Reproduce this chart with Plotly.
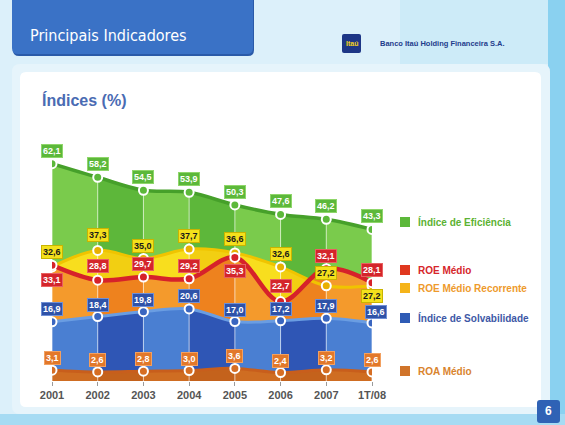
import plotly.graph_objects as go

# ---------------- data ----------------
categories = ["2001", "2002", "2003", "2004", "2005", "2006", "2007", "1T/08"]
eficiencia = [62.1, 58.2, 54.5, 53.9, 50.3, 47.6, 46.2, 43.3]
roe_recorrente = [32.6, 37.3, 35.0, 37.7, 36.6, 32.6, 27.2, 27.2]
roe_medio = [33.1, 28.8, 29.7, 29.2, 35.3, 22.7, 32.1, 28.1]
solvabilidade = [16.9, 18.4, 19.8, 20.6, 17.0, 17.2, 17.9, 16.6]
roa_medio = [3.1, 2.6, 2.8, 3.0, 3.6, 2.4, 3.2, 2.6]

legend_names = ["Índice de Eficiência", "ROE Médio", "ROE Médio Recorrente",
                "Índice de Solvabilidade", "ROA Médio"]

W, H = 565, 425
xs = list(range(len(categories)))


def px(x):
    return x / W


def py(y):
    return 1 - y / H


def rrect_path(x0, y0, x1, y1, r):
    rx, ry = r / W, r / H
    a, b, c, d = px(x0), py(y0), px(x1), py(y1)
    return (f"M {a+rx},{b} L {c-rx},{b} Q {c},{b} {c},{b-ry} L {c},{d+ry} "
            f"Q {c},{d} {c-rx},{d} L {a+rx},{d} Q {a},{d} {a},{d+ry} "
            f"L {a},{b-ry} Q {a},{b} {a+rx},{b} Z")


def stripes(c_light, c_dark):
    n = len(categories) - 1
    cs = []
    for k in range(n):
        col = c_light if k % 2 == 0 else c_dark
        cs.append([k / n, col])
        cs.append([(k + 1) / n, col])
    return cs


fig = go.Figure()

# filled areas (back to front)
areas = [
    (eficiencia, "#7acb4c", "#5db73a"),
    (roe_recorrente, "#f8de1e", "#f2cf12"),
    (roe_medio, "#f49a2c", "#ee821e"),
    (solvabilidade, "#4a7fd2", "#2f56b5"),
    (roa_medio, "#cf6d22", "#c4621c"),
]
for vals, cl, cd in areas:
    fig.add_trace(go.Scatter(
        x=xs, y=vals, mode="lines", line=dict(width=0, shape="spline"),
        fill="tozeroy",
        fillgradient=dict(type="horizontal", colorscale=stripes(cl, cd)),
        hoverinfo="skip", showlegend=False))

# white vertical guide lines inside the areas
gx, gy = [], []
for i in xs:
    gx += [i, i, None]
    gy += [0, eficiencia[i], None]
fig.add_trace(go.Scatter(x=gx, y=gy, mode="lines",
                         line=dict(color="rgba(255,255,255,0.65)", width=1),
                         hoverinfo="skip", showlegend=False))

# lines + markers
lines = [
    (eficiencia, "#46a02a", 3.5, "#5cb83a"),
    (roe_recorrente, "#f0c400", 3, "#e8b000"),
    (roe_medio, "#d6222a", 4.5, "#d6222a"),
    (solvabilidade, "#6a9de2", 3, "#3a66c0"),
    (roa_medio, "#c85e1c", 3, "#d66e24"),
]
for vals, lc, lw, mc in lines:
    fig.add_trace(go.Scatter(
        x=xs, y=vals, mode="lines+markers",
        line=dict(color=lc, width=lw, shape="spline"),
        marker=dict(size=9, color=mc, line=dict(color="white", width=2)),
        hoverinfo="skip", showlegend=False))

# data labels
label_specs = [
    (eficiencia, [13] * 8, "#5cb83a", "white", "#8fd66a"),
    (roe_medio, [-15, 14, 13, 13, -14, 16, 13, 13], "#d4252b", "white", "#e86060"),
    (roe_recorrente, [15, 15, 13, 13, 14, 13, 13, -10], "#f4e01c", "#1a1a1a", "#c9b400"),
    (solvabilidade, [13, 12, 12, 13, 12, 12, 12, 11], "#2f52a8", "white", "#6f8fd6"),
    (roa_medio, [12] * 8, "#e2782a", "white", "#f2a060"),
]
annotations = []
for vals, shifts, bg, fc, bc in label_specs:
    for i, v in enumerate(vals):
        annotations.append(dict(
            x=xs[i], y=v, xref="x", yref="y",
            text=f"{v:.1f}".replace(".", ","),
            showarrow=False, yshift=shifts[i],
            xshift=4 if (vals is solvabilidade and i == 7) else 0,
            font=dict(family="Liberation Sans, Arial, sans-serif", size=9,
                      color=fc, weight="bold"),
            bgcolor=bg, bordercolor=bc, borderwidth=1, borderpad=1))

# legend (manual)
legend_y = [222, 270, 288, 318, 371]
legend_text_col = ["#5cb233", "#d6262b", "#ee9a2c", "#3d58a6", "#d9842e"]
legend_sq_col = ["#5cb83a", "#e0381f", "#f5b41a", "#2f5bb5", "#d0742a"]
shapes = []

# background decoration
shapes.append(dict(type="rect", xref="paper", yref="paper", x0=px(548), x1=1,
                   y0=0, y1=1, fillcolor="#8ad1f0", line=dict(width=0), layer="below"))
shapes.append(dict(type="rect", xref="paper", yref="paper", x0=px(400), x1=px(548),
                   y0=py(0), y1=py(64), fillcolor="#cdebf8", line=dict(width=0), layer="below"))
shapes.append(dict(type="rect", xref="paper", yref="paper", x0=0, x1=1,
                   y0=0, y1=py(414), fillcolor="#a6dbf3", line=dict(width=0), layer="below"))
shapes.append(dict(type="path", xref="paper", yref="paper",
                   path=rrect_path(12, 64, 550, 414, 8),
                   fillcolor="#e6f4fb", line=dict(width=0), layer="below"))
shapes.append(dict(type="path", xref="paper", yref="paper",
                   path=rrect_path(20, 72, 541, 407, 6),
                   fillcolor="white", line=dict(width=0), layer="below"))
# header banner
shapes.append(dict(type="path", xref="paper", yref="paper",
                   path=rrect_path(13, -8, 254, 56, 6),
                   fillcolor="#2a5aa8", line=dict(width=0), layer="below"))
shapes.append(dict(type="path", xref="paper", yref="paper",
                   path=rrect_path(12, -8, 253, 54, 6),
                   fillcolor="#3a72c6", line=dict(width=0), layer="below"))
# logo
shapes.append(dict(type="path", xref="paper", yref="paper",
                   path=rrect_path(342, 34, 361, 53, 2),
                   fillcolor="#1d3686", line=dict(width=0), layer="below"))
# page number
shapes.append(dict(type="path", xref="paper", yref="paper",
                   path=rrect_path(537, 400, 560, 423, 3),
                   fillcolor="#2f62b5", line=dict(width=0), layer="below"))

for name, yc, tc, sc in zip(legend_names, legend_y, legend_text_col, legend_sq_col):
    shapes.append(dict(type="rect", xref="paper", yref="paper",
                       x0=px(400), x1=px(410), y0=py(yc + 5), y1=py(yc - 5),
                       fillcolor=sc, line=dict(width=0)))
    annotations.append(dict(x=px(416), y=py(yc), xref="paper", yref="paper",
                            xanchor="left", yanchor="middle", text=name, showarrow=False,
                            font=dict(family="Liberation Sans, Arial, sans-serif",
                                      size=10, color=tc, weight="bold")))

annotations += [
    dict(x=px(28), y=py(35), xref="paper", yref="paper", xanchor="left", yanchor="middle",
         text="Principais Indicadores", showarrow=False,
         font=dict(family="Liberation Sans Narrow, DejaVu Sans Condensed, sans-serif",
                   size=16, color="white")),
    dict(x=px(351.5), y=py(44), xref="paper", yref="paper", xanchor="center", yanchor="middle",
         text="Itaú", showarrow=False,
         font=dict(family="Liberation Sans Narrow, Liberation Sans, sans-serif",
                   size=7, color="#f3d21a", weight="bold")),
    dict(x=px(378), y=py(44), xref="paper", yref="paper", xanchor="left", yanchor="middle",
         text="Banco Itaú Holding Financeira S.A.", showarrow=False,
         font=dict(family="Liberation Sans Narrow, Liberation Sans, sans-serif",
                   size=7.5, color="#1e3c8c", weight="bold")),
    dict(x=px(40), y=py(100), xref="paper", yref="paper", xanchor="left", yanchor="middle",
         text="Índices (%)", showarrow=False,
         font=dict(family="Liberation Sans, Arial, sans-serif", size=16,
                   color="#4a6bb3", weight="bold")),
    dict(x=px(548.5), y=py(411), xref="paper", yref="paper", xanchor="center", yanchor="middle",
         text="6", showarrow=False,
         font=dict(family="Liberation Sans, Arial, sans-serif", size=12,
                   color="white", weight="bold")),
]

fig.update_layout(
    width=W, height=H,
    margin=dict(l=0, r=0, t=0, b=0),
    paper_bgcolor="#dcf0fa",
    plot_bgcolor="rgba(0,0,0,0)",
    showlegend=False,
    shapes=shapes,
    annotations=annotations,
    xaxis=dict(domain=[px(52), px(372)], range=[0, 7], tickvals=xs, ticktext=categories,
               showgrid=False, zeroline=False, showline=False,
               ticks="outside", ticklen=4, tickcolor="#9a9a9a",
               tickfont=dict(family="Liberation Sans, Arial, sans-serif", size=11,
                             color="#555555", weight="bold"),
               automargin=False),
    yaxis=dict(domain=[44 / H, 324 / H], range=[0, 80], visible=False,
               showgrid=False, zeroline=False, automargin=False),
)

fig.write_html("out.html",
               config={"displayModeBar": False},
               post_script="document.body.style.margin='0';document.body.style.overflow='hidden';")
